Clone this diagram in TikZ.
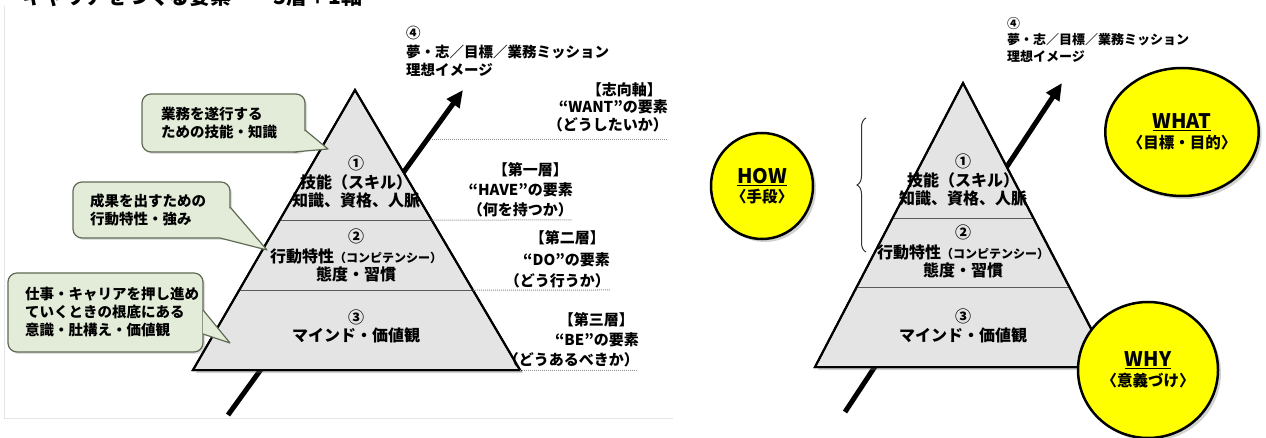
\documentclass[tikz,border=0pt]{standalone}
\usepackage{fontspec}
\setmainfont{Noto Sans CJK JP}
\usetikzlibrary{shadows,arrows.meta,decorations.pathreplacing,shapes.geometric,calc}
\definecolor{pyrfill}{HTML}{E4E4E4}
\definecolor{callfill}{HTML}{E2ECD8}
\definecolor{calldraw}{HTML}{5E6B55}
\definecolor{yfill}{HTML}{FFFF00}
\newcommand\pyrfont{\bfseries\fontsize{16}{19}\selectfont}
\newcommand\katafont{\fontsize{12}{14}\selectfont}
\newcommand\callfont{\bfseries\fontsize{14.5}{18}\selectfont}
\newcommand\lblfont{\bfseries\fontsize{15}{18}\selectfont}
\newcommand\topfont{\bfseries\fontsize{14.5}{17}\selectfont}
\newcommand\rtopfont{\bfseries\fontsize{13}{15}\selectfont}
\newcommand\titlefont{\bfseries\fontsize{21}{24}\selectfont}
\newcommand\engfont{\bfseries\fontsize{20}{22}\selectfont}
\newcommand\subfont{\bfseries\fontsize{15.5}{18}\selectfont}
\begin{document}
\begin{tikzpicture}[x=1pt,y=-1pt,
  pyr/.style={fill=pyrfill, draw=black, line width=2pt, line join=miter,
    drop shadow={opacity=0.35, shadow xshift=3pt, shadow yshift=-3pt}},
  layerline/.style={draw=black!65, line width=1pt},
  dotln/.style={draw=black!45, line width=1pt, dash pattern=on 1pt off 1pt},
  axisarrow/.style={line width=5pt, -{Triangle[length=17pt,width=15pt]}},
  ptxt/.style={font=\pyrfont, inner sep=0pt},
  rtxt/.style={font=\lblfont, inner sep=0pt, anchor=east},
  ltxt/.style={inner sep=0pt, anchor=west, align=left},
  callbox/.style={draw=calldraw, fill=callfill, line width=1.2pt, rounded corners=9pt,
    font=\callfont, align=left, inner ysep=0pt,
    drop shadow={opacity=0.25, shadow xshift=2pt, shadow yshift=-2pt}},
  tailfill/.style={fill=callfill},
  tailedge/.style={draw=calldraw, line width=1.2pt, line join=round},
  ycirc/.style={ellipse, fill=yfill, draw=black, line width=2.5pt, align=center, inner sep=0pt,
    drop shadow={opacity=0.35, shadow xshift=3pt, shadow yshift=-3pt}},
  bracestyle/.style={draw=black!80, line width=1pt, decorate, decoration={brace, amplitude=9pt}},
  frame/.style={draw=black!10, line width=1pt}
]
\useasboundingbox (0,0) rectangle (1266,438);
\clip (0,0) rectangle (1266,438);
\fill[white] (0,0) rectangle (1266,438);

% faint frame of the left panel
\coordinate (F1) at (4,6);
\coordinate (F2) at (4,418);
\coordinate (F3) at (673,418);
\draw[frame] (F1) -- (F2) -- (F3);

% title (cut by the top edge)
\node[anchor=base west, inner sep=0pt, font=\titlefont] (title) at (22,5) {キャリアをつくる要素　～3層＋1軸};

% ================= LEFT PYRAMID =================
\coordinate (LA) at (355,90);
\coordinate (LL) at (193,370);
\coordinate (LR) at (520,370);
\coordinate (Lax0) at (228,415);
\coordinate (Lax1) at (463,90);
\draw[axisarrow] (Lax0) -- (Lax1);
\filldraw[pyr] (LA) -- (LR) -- (LL) -- cycle;
\coordinate (L1l) at ($(LA)!0.4643!(LL)$);
\coordinate (L1r) at ($(LA)!0.4643!(LR)$);
\coordinate (L2l) at ($(LA)!0.7143!(LL)$);
\coordinate (L2r) at ($(LA)!0.7143!(LR)$);
\draw[layerline] (L1l) -- (L1r);
\draw[layerline] (L2l) -- (L2r);
\draw[line width=2pt, line join=miter] (LA) -- (LR) -- (LL) -- cycle;

\node[ptxt] (Ln1) at (356,163) {①};
\node[ptxt] (Ll1a) at (356,182) {技能（スキル）};
\node[ptxt] (Ll1b) at (356,200) {知識、資格、人脈};
\node[ptxt] (Ln2) at (356,236) {②};
\node[ptxt] (Ll2a) at (356,256) {行動特性{\katafont（コンピテンシー）}};
\node[ptxt] (Ll2b) at (356,274) {態度・習慣};
\node[ptxt] (Ln3) at (356,317) {③};
\node[ptxt] (Ll3a) at (356,335) {マインド・価値観};

% dotted separators
\coordinate (Ld0s) at (430,140);
\coordinate (Ld0e) at (667,140);
\coordinate (Ld1e) at (572,220);
\coordinate (Ld2e) at (610,290);
\coordinate (Ld3e) at (638,370);
\draw[dotln] (Ld0s) -- (Ld0e);
\draw[dotln] (L1r) -- (Ld1e);
\draw[dotln] (L2r) -- (Ld2e);
\draw[dotln] (LR) -- (Ld3e);

% right labels
\node[rtxt] (Lw1) at (662,90) {【志向軸】};
\node[rtxt] (Lw2) at (668,107) {“WANT”の要素};
\node[rtxt] (Lw3) at (668,125) {（どうしたいか）};
\node[rtxt] (Lh1) at (568,170) {【第一層】};
\node[rtxt] (Lh2) at (573,190) {“HAVE”の要素};
\node[rtxt] (Lh3) at (573,210) {（何を持つか）};
\node[rtxt] (Ldo1) at (605,238) {【第二層】};
\node[rtxt] (Ldo2) at (610,260) {“DO”の要素};
\node[rtxt] (Ldo3) at (610,281) {（どう行うか）};
\node[rtxt] (Lb1) at (634,320) {【第三層】};
\node[rtxt] (Lb2) at (639,340) {“BE”の要素};
\node[rtxt] (Lb3) at (639,360) {（どうあるべきか）};

% axis label
\node[ltxt, font=\topfont] (L4n) at (406,33) {④};
\node[ltxt, font=\topfont] (L4a) at (406,52) {夢・志／目標／業務ミッション};
\node[ltxt, font=\topfont] (L4b) at (406,70) {理想イメージ};

% callouts
\node[callbox, minimum width=163pt, minimum height=58pt, inner xsep=19pt, text width=125pt] (cb1) at (223.5,123) {業務を遂行する\\ための技能・知識};
\coordinate (t1a) at (305,130);
\coordinate (t1t) at (328,149);
\coordinate (t1b) at (294,152);
\fill[tailfill] (t1a) -- (t1t) -- (t1b) -- cycle;
\draw[tailedge] (t1a) -- (t1t) -- (t1b);

\node[callbox, minimum width=157pt, minimum height=56pt, inner xsep=17pt, text width=123pt] (cb2) at (151.5,210) {成果を出すための\\行動特性・強み};
\coordinate (t2a) at (230,207);
\coordinate (t2t) at (267,250);
\coordinate (t2b) at (220,238);
\fill[tailfill] (t2a) -- (t2t) -- (t2b) -- cycle;
\draw[tailedge] (t2a) -- (t2t) -- (t2b);

\node[callbox, minimum width=195pt, minimum height=79pt, inner xsep=17pt, text width=161pt] (cb3) at (105.5,312.5) {仕事・キャリアを押し進め\\ていくときの根底にある\\意識・肚構え・価値観};
\coordinate (t3a) at (203,310);
\coordinate (t3t) at (230,343);
\coordinate (t3b) at (203,334);
\fill[tailfill] (t3a) -- (t3t) -- (t3b) -- cycle;
\draw[tailedge] (t3a) -- (t3t) -- (t3b);

% ================= RIGHT PYRAMID =================
\coordinate (RA) at (963,83);
\coordinate (RL) at (815,367);
\coordinate (RR) at (1111,367);
\coordinate (Rax0) at (845,412);
\coordinate (Rax1) at (1062,83);
\draw[axisarrow] (Rax0) -- (Rax1);
\filldraw[pyr] (RA) -- (RR) -- (RL) -- cycle;
\coordinate (R1l) at ($(RA)!0.4754!(RL)$);
\coordinate (R1r) at ($(RA)!0.4754!(RR)$);
\coordinate (R2l) at ($(RA)!0.7218!(RL)$);
\coordinate (R2r) at ($(RA)!0.7218!(RR)$);
\draw[layerline] (R1l) -- (R1r);
\draw[layerline] (R2l) -- (R2r);
\draw[line width=2pt, line join=miter] (RA) -- (RR) -- (RL) -- cycle;

\node[ptxt] (Rn1) at (963,161) {①};
\node[ptxt] (Rl1a) at (963,180) {技能（スキル）};
\node[ptxt] (Rl1b) at (963,198) {知識、資格、人脈};
\node[ptxt] (Rn2) at (963,232) {②};
\node[ptxt] (Rl2a) at (963,252) {行動特性{\katafont（コンピテンシー）}};
\node[ptxt] (Rl2b) at (963,270) {態度・習慣};
\node[ptxt] (Rn3) at (963,316) {③};
\node[ptxt] (Rl3a) at (963,335) {マインド・価値観};

\node[ltxt, font=\rtopfont] (R4n) at (1007,24) {④};
\node[ltxt, font=\rtopfont] (R4a) at (1007,40) {夢・志／目標／業務ミッション};
\node[ltxt, font=\rtopfont] (R4b) at (1007,56) {理想イメージ};

% brace
\coordinate (Rb0) at (866,252);
\coordinate (Rb1) at (866,118);
\draw[bracestyle] (Rb0) -- (Rb1);

% circles
\node[ycirc, minimum width=102pt, minimum height=106pt] (how) at (762,186)
  {{\engfont\underline{HOW}}\\[3pt]{\subfont〈手段〉}};
\node[ycirc, minimum width=137pt, minimum height=128pt] (what) at (1182,132)
  {{\engfont\underline{WHAT}}\\[4pt]{\subfont〈目標・目的〉}};
\node[ycirc, minimum width=140pt, minimum height=136pt] (why) at (1148,370)
  {{\engfont\underline{WHY}}\\[4pt]{\subfont〈意義づけ〉}};
\end{tikzpicture}
\end{document}
